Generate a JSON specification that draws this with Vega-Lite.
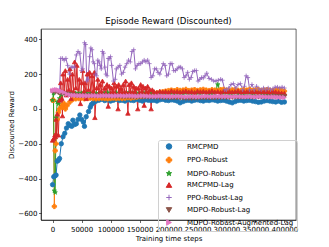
{
"$schema": "https://vega.github.io/schema/vega-lite/v6.json",
"width": 255, "height": 191,
"autosize": "none",
"padding": {"left": 41, "top": 29, "right": 33, "bottom": 27},
"background": "white",
"title": {"text": "Episode Reward (Discounted)", "fontSize": 8.6, "font": "DejaVu Sans", "fontWeight": "normal", "offset": 3, "color": "black"},
"config": {
 "view": {"stroke": "black", "strokeWidth": 0.6},
 "axis": {"grid": false, "labelFont": "DejaVu Sans", "labelFontSize": 7, "labelColor": "black", "tickColor": "black", "tickSize": 2.5, "tickWidth": 0.6, "domainColor": "black", "domainWidth": 0.6, "titleFont": "DejaVu Sans", "titleFontSize": 7, "titleFontWeight": "normal", "titleColor": "black", "labelPadding": 1.5, "titlePadding": 2},
 "legend": {"orient": "none", "legendX": 117, "legendY": 111, "padding": 3, "labelFont": "DejaVu Sans", "labelFontSize": 7, "labelColor": "black", "symbolSize": 30, "rowPadding": 2.5, "labelOffset": 14.5, "symbolOffset": 4.5, "symbolStrokeWidth": 1}
},
"data": {"values": [
{"s":"RMCPMD","x":0,"y":-435},{"s":"RMCPMD","x":2000,"y":-390},{"s":"RMCPMD","x":4000,"y":-385},{"s":"RMCPMD","x":6000,"y":-380},{"s":"RMCPMD","x":8000,"y":-300},{"s":"RMCPMD","x":10000,"y":-295},{"s":"RMCPMD","x":12000,"y":-285},{"s":"RMCPMD","x":15000,"y":-200},{"s":"RMCPMD","x":18000,"y":-160},{"s":"RMCPMD","x":21000,"y":-140},{"s":"RMCPMD","x":24000,"y":-110},{"s":"RMCPMD","x":27000,"y":-85},{"s":"RMCPMD","x":30000,"y":-95},{"s":"RMCPMD","x":33000,"y":-100},{"s":"RMCPMD","x":35000,"y":-65},{"s":"RMCPMD","x":38000,"y":-90},{"s":"RMCPMD","x":41000,"y":-85},{"s":"RMCPMD","x":44000,"y":-60},{"s":"RMCPMD","x":47000,"y":-35},{"s":"RMCPMD","x":50000,"y":-60},{"s":"RMCPMD","x":53000,"y":-75},{"s":"RMCPMD","x":55000,"y":-100},{"s":"RMCPMD","x":58000,"y":-45},{"s":"RMCPMD","x":62000,"y":-15},{"s":"RMCPMD","x":65000,"y":10},{"s":"RMCPMD","x":67000,"y":25},{"s":"RMCPMD","x":70000,"y":35},{"s":"RMCPMD","x":72000,"y":40},
{"s":"RMCPMD","x":75000,"y":45},{"s":"RMCPMD","x":80000,"y":50},{"s":"RMCPMD","x":85000,"y":55},{"s":"RMCPMD","x":90000,"y":48},{"s":"RMCPMD","x":95000,"y":52},{"s":"RMCPMD","x":100000,"y":45},{"s":"RMCPMD","x":105000,"y":50},{"s":"RMCPMD","x":110000,"y":55},{"s":"RMCPMD","x":115000,"y":48},{"s":"RMCPMD","x":120000,"y":50},
{"s":"RMCPMD","x":125000,"y":45},{"s":"RMCPMD","x":130000,"y":52},{"s":"RMCPMD","x":135000,"y":50},{"s":"RMCPMD","x":140000,"y":48},{"s":"RMCPMD","x":145000,"y":55},{"s":"RMCPMD","x":150000,"y":50},{"s":"RMCPMD","x":155000,"y":45},{"s":"RMCPMD","x":160000,"y":52},{"s":"RMCPMD","x":165000,"y":50},{"s":"RMCPMD","x":170000,"y":48},
{"s":"RMCPMD","x":175000,"y":50},{"s":"RMCPMD","x":180000,"y":45},{"s":"RMCPMD","x":185000,"y":52},{"s":"RMCPMD","x":190000,"y":55},{"s":"RMCPMD","x":195000,"y":50},{"s":"RMCPMD","x":200000,"y":48},{"s":"RMCPMD","x":205000,"y":52},{"s":"RMCPMD","x":210000,"y":50},{"s":"RMCPMD","x":215000,"y":45},{"s":"RMCPMD","x":220000,"y":35},
{"s":"RMCPMD","x":225000,"y":42},{"s":"RMCPMD","x":230000,"y":48},{"s":"RMCPMD","x":235000,"y":50},{"s":"RMCPMD","x":240000,"y":45},{"s":"RMCPMD","x":245000,"y":50},{"s":"RMCPMD","x":250000,"y":52},{"s":"RMCPMD","x":255000,"y":48},{"s":"RMCPMD","x":260000,"y":45},{"s":"RMCPMD","x":265000,"y":50},{"s":"RMCPMD","x":270000,"y":48},
{"s":"RMCPMD","x":275000,"y":52},{"s":"RMCPMD","x":280000,"y":50},{"s":"RMCPMD","x":285000,"y":45},{"s":"RMCPMD","x":290000,"y":48},{"s":"RMCPMD","x":295000,"y":50},{"s":"RMCPMD","x":300000,"y":45},{"s":"RMCPMD","x":305000,"y":40},{"s":"RMCPMD","x":310000,"y":35},{"s":"RMCPMD","x":315000,"y":42},{"s":"RMCPMD","x":320000,"y":48},
{"s":"RMCPMD","x":325000,"y":50},{"s":"RMCPMD","x":330000,"y":45},{"s":"RMCPMD","x":335000,"y":48},{"s":"RMCPMD","x":340000,"y":50},{"s":"RMCPMD","x":345000,"y":45},{"s":"RMCPMD","x":350000,"y":42},{"s":"RMCPMD","x":355000,"y":38},{"s":"RMCPMD","x":360000,"y":40},{"s":"RMCPMD","x":365000,"y":45},{"s":"RMCPMD","x":370000,"y":48},
{"s":"RMCPMD","x":375000,"y":45},{"s":"RMCPMD","x":380000,"y":42},{"s":"RMCPMD","x":385000,"y":40},{"s":"RMCPMD","x":390000,"y":45},{"s":"RMCPMD","x":395000,"y":38},{"s":"RMCPMD","x":400000,"y":40},

{"s":"PPO-Robust","x":0,"y":50},{"s":"PPO-Robust","x":1500,"y":50},{"s":"PPO-Robust","x":3000,"y":-560},{"s":"PPO-Robust","x":4500,"y":-240},{"s":"PPO-Robust","x":6000,"y":-200},{"s":"PPO-Robust","x":8000,"y":-60},{"s":"PPO-Robust","x":10000,"y":-20},{"s":"PPO-Robust","x":12000,"y":0},{"s":"PPO-Robust","x":15000,"y":20},{"s":"PPO-Robust","x":18000,"y":10},{"s":"PPO-Robust","x":20000,"y":30},{"s":"PPO-Robust","x":22000,"y":0},{"s":"PPO-Robust","x":25000,"y":20},{"s":"PPO-Robust","x":30000,"y":40},{"s":"PPO-Robust","x":35000,"y":55},{"s":"PPO-Robust","x":40000,"y":58},
{"s":"PPO-Robust","x":45000,"y":60},{"s":"PPO-Robust","x":50000,"y":62},{"s":"PPO-Robust","x":55000,"y":58},{"s":"PPO-Robust","x":60000,"y":60},{"s":"PPO-Robust","x":65000,"y":62},{"s":"PPO-Robust","x":70000,"y":60},{"s":"PPO-Robust","x":75000,"y":58},{"s":"PPO-Robust","x":80000,"y":60},{"s":"PPO-Robust","x":85000,"y":62},{"s":"PPO-Robust","x":90000,"y":60},{"s":"PPO-Robust","x":95000,"y":58},{"s":"PPO-Robust","x":100000,"y":60},{"s":"PPO-Robust","x":105000,"y":62},{"s":"PPO-Robust","x":110000,"y":60},{"s":"PPO-Robust","x":115000,"y":62},{"s":"PPO-Robust","x":120000,"y":60},{"s":"PPO-Robust","x":125000,"y":62},{"s":"PPO-Robust","x":130000,"y":65},{"s":"PPO-Robust","x":135000,"y":62},{"s":"PPO-Robust","x":140000,"y":65},{"s":"PPO-Robust","x":145000,"y":68},{"s":"PPO-Robust","x":150000,"y":70},{"s":"PPO-Robust","x":155000,"y":72},{"s":"PPO-Robust","x":160000,"y":75},{"s":"PPO-Robust","x":165000,"y":80},{"s":"PPO-Robust","x":170000,"y":85},{"s":"PPO-Robust","x":175000,"y":88},{"s":"PPO-Robust","x":180000,"y":92},{"s":"PPO-Robust","x":185000,"y":95},{"s":"PPO-Robust","x":190000,"y":98},{"s":"PPO-Robust","x":195000,"y":102},
{"s":"PPO-Robust","x":200000,"y":105},{"s":"PPO-Robust","x":205000,"y":108},{"s":"PPO-Robust","x":210000,"y":104},{"s":"PPO-Robust","x":215000,"y":110},{"s":"PPO-Robust","x":220000,"y":106},{"s":"PPO-Robust","x":225000,"y":108},{"s":"PPO-Robust","x":230000,"y":112},{"s":"PPO-Robust","x":235000,"y":105},{"s":"PPO-Robust","x":240000,"y":108},{"s":"PPO-Robust","x":245000,"y":110},{"s":"PPO-Robust","x":250000,"y":106},{"s":"PPO-Robust","x":255000,"y":109},{"s":"PPO-Robust","x":260000,"y":112},{"s":"PPO-Robust","x":265000,"y":108},{"s":"PPO-Robust","x":270000,"y":105},{"s":"PPO-Robust","x":275000,"y":110},{"s":"PPO-Robust","x":280000,"y":108},{"s":"PPO-Robust","x":285000,"y":106},{"s":"PPO-Robust","x":290000,"y":110},{"s":"PPO-Robust","x":295000,"y":112},{"s":"PPO-Robust","x":300000,"y":108},{"s":"PPO-Robust","x":305000,"y":105},{"s":"PPO-Robust","x":310000,"y":109},{"s":"PPO-Robust","x":315000,"y":110},{"s":"PPO-Robust","x":320000,"y":107},{"s":"PPO-Robust","x":325000,"y":105},{"s":"PPO-Robust","x":330000,"y":110},{"s":"PPO-Robust","x":335000,"y":108},{"s":"PPO-Robust","x":340000,"y":112},{"s":"PPO-Robust","x":345000,"y":106},{"s":"PPO-Robust","x":350000,"y":108},{"s":"PPO-Robust","x":355000,"y":110},{"s":"PPO-Robust","x":360000,"y":105},{"s":"PPO-Robust","x":365000,"y":108},{"s":"PPO-Robust","x":370000,"y":110},{"s":"PPO-Robust","x":375000,"y":107},{"s":"PPO-Robust","x":380000,"y":105},{"s":"PPO-Robust","x":385000,"y":108},{"s":"PPO-Robust","x":390000,"y":110},{"s":"PPO-Robust","x":395000,"y":106},{"s":"PPO-Robust","x":400000,"y":102},

{"s":"MDPO-Robust","x":0,"y":50},{"s":"MDPO-Robust","x":1500,"y":90},{"s":"MDPO-Robust","x":3000,"y":-470},{"s":"MDPO-Robust","x":4500,"y":-480},{"s":"MDPO-Robust","x":6000,"y":-50},{"s":"MDPO-Robust","x":8000,"y":40},{"s":"MDPO-Robust","x":10000,"y":30},{"s":"MDPO-Robust","x":12000,"y":60},{"s":"MDPO-Robust","x":15000,"y":80},{"s":"MDPO-Robust","x":20000,"y":90},{"s":"MDPO-Robust","x":25000,"y":85},
{"s":"MDPO-Robust","x":30000,"y":88},{"s":"MDPO-Robust","x":35000,"y":92},{"s":"MDPO-Robust","x":40000,"y":90},{"s":"MDPO-Robust","x":45000,"y":87},{"s":"MDPO-Robust","x":50000,"y":91},{"s":"MDPO-Robust","x":55000,"y":93},{"s":"MDPO-Robust","x":60000,"y":89},{"s":"MDPO-Robust","x":65000,"y":90},{"s":"MDPO-Robust","x":70000,"y":92},{"s":"MDPO-Robust","x":75000,"y":88},
{"s":"MDPO-Robust","x":80000,"y":90},{"s":"MDPO-Robust","x":85000,"y":91},{"s":"MDPO-Robust","x":90000,"y":89},{"s":"MDPO-Robust","x":95000,"y":93},{"s":"MDPO-Robust","x":100000,"y":90},{"s":"MDPO-Robust","x":105000,"y":88},{"s":"MDPO-Robust","x":110000,"y":92},{"s":"MDPO-Robust","x":115000,"y":90},{"s":"MDPO-Robust","x":120000,"y":87},{"s":"MDPO-Robust","x":125000,"y":91},
{"s":"MDPO-Robust","x":130000,"y":90},{"s":"MDPO-Robust","x":135000,"y":92},{"s":"MDPO-Robust","x":140000,"y":89},{"s":"MDPO-Robust","x":145000,"y":88},{"s":"MDPO-Robust","x":150000,"y":91},{"s":"MDPO-Robust","x":155000,"y":90},{"s":"MDPO-Robust","x":160000,"y":93},{"s":"MDPO-Robust","x":165000,"y":89},{"s":"MDPO-Robust","x":170000,"y":90},{"s":"MDPO-Robust","x":175000,"y":92},
{"s":"MDPO-Robust","x":180000,"y":88},{"s":"MDPO-Robust","x":185000,"y":90},{"s":"MDPO-Robust","x":190000,"y":91},{"s":"MDPO-Robust","x":195000,"y":89},{"s":"MDPO-Robust","x":200000,"y":92},{"s":"MDPO-Robust","x":205000,"y":90},{"s":"MDPO-Robust","x":210000,"y":88},{"s":"MDPO-Robust","x":215000,"y":90},{"s":"MDPO-Robust","x":220000,"y":91},{"s":"MDPO-Robust","x":225000,"y":89},
{"s":"MDPO-Robust","x":230000,"y":92},{"s":"MDPO-Robust","x":235000,"y":90},{"s":"MDPO-Robust","x":240000,"y":88},{"s":"MDPO-Robust","x":245000,"y":91},{"s":"MDPO-Robust","x":250000,"y":90},{"s":"MDPO-Robust","x":255000,"y":89},{"s":"MDPO-Robust","x":260000,"y":92},{"s":"MDPO-Robust","x":265000,"y":90},{"s":"MDPO-Robust","x":270000,"y":88},{"s":"MDPO-Robust","x":275000,"y":90},
{"s":"MDPO-Robust","x":280000,"y":90},{"s":"MDPO-Robust","x":285000,"y":140},{"s":"MDPO-Robust","x":290000,"y":88},{"s":"MDPO-Robust","x":295000,"y":90},{"s":"MDPO-Robust","x":300000,"y":91},{"s":"MDPO-Robust","x":305000,"y":89},{"s":"MDPO-Robust","x":310000,"y":90},{"s":"MDPO-Robust","x":315000,"y":92},{"s":"MDPO-Robust","x":320000,"y":88},{"s":"MDPO-Robust","x":325000,"y":90},
{"s":"MDPO-Robust","x":330000,"y":89},{"s":"MDPO-Robust","x":335000,"y":91},{"s":"MDPO-Robust","x":340000,"y":90},{"s":"MDPO-Robust","x":345000,"y":88},{"s":"MDPO-Robust","x":350000,"y":90},{"s":"MDPO-Robust","x":355000,"y":92},{"s":"MDPO-Robust","x":360000,"y":89},{"s":"MDPO-Robust","x":365000,"y":90},{"s":"MDPO-Robust","x":370000,"y":88},{"s":"MDPO-Robust","x":375000,"y":87},
{"s":"MDPO-Robust","x":380000,"y":89},{"s":"MDPO-Robust","x":385000,"y":86},{"s":"MDPO-Robust","x":390000,"y":85},{"s":"MDPO-Robust","x":395000,"y":82},{"s":"MDPO-Robust","x":400000,"y":80},

{"s":"RMCPMD-Lag","x":0,"y":-180},{"s":"RMCPMD-Lag","x":2000,"y":-170},{"s":"RMCPMD-Lag","x":4000,"y":-150},{"s":"RMCPMD-Lag","x":5000,"y":-160},{"s":"RMCPMD-Lag","x":6000,"y":-60},{"s":"RMCPMD-Lag","x":7000,"y":-150},{"s":"RMCPMD-Lag","x":8000,"y":-30},{"s":"RMCPMD-Lag","x":10000,"y":-150},{"s":"RMCPMD-Lag","x":12000,"y":50},{"s":"RMCPMD-Lag","x":14000,"y":150},{"s":"RMCPMD-Lag","x":16000,"y":60},{"s":"RMCPMD-Lag","x":17000,"y":-40},{"s":"RMCPMD-Lag","x":18000,"y":200},{"s":"RMCPMD-Lag","x":20000,"y":100},{"s":"RMCPMD-Lag","x":22000,"y":220},{"s":"RMCPMD-Lag","x":24000,"y":80},{"s":"RMCPMD-Lag","x":26000,"y":170},{"s":"RMCPMD-Lag","x":28000,"y":110},{"s":"RMCPMD-Lag","x":30000,"y":230},{"s":"RMCPMD-Lag","x":32000,"y":60},{"s":"RMCPMD-Lag","x":34000,"y":200},{"s":"RMCPMD-Lag","x":36000,"y":100},{"s":"RMCPMD-Lag","x":38000,"y":270},{"s":"RMCPMD-Lag","x":40000,"y":120},{"s":"RMCPMD-Lag","x":42000,"y":250},{"s":"RMCPMD-Lag","x":44000,"y":80},{"s":"RMCPMD-Lag","x":46000,"y":170},{"s":"RMCPMD-Lag","x":48000,"y":30},{"s":"RMCPMD-Lag","x":50000,"y":150},{"s":"RMCPMD-Lag","x":52000,"y":220},{"s":"RMCPMD-Lag","x":54000,"y":100},{"s":"RMCPMD-Lag","x":56000,"y":150},{"s":"RMCPMD-Lag","x":58000,"y":60},{"s":"RMCPMD-Lag","x":60000,"y":200},{"s":"RMCPMD-Lag","x":62000,"y":110},{"s":"RMCPMD-Lag","x":64000,"y":210},{"s":"RMCPMD-Lag","x":66000,"y":80},{"s":"RMCPMD-Lag","x":68000,"y":190},{"s":"RMCPMD-Lag","x":70000,"y":100},{"s":"RMCPMD-Lag","x":72000,"y":210},{"s":"RMCPMD-Lag","x":73000,"y":-50},{"s":"RMCPMD-Lag","x":76000,"y":120},{"s":"RMCPMD-Lag","x":78000,"y":170},{"s":"RMCPMD-Lag","x":80000,"y":90},{"s":"RMCPMD-Lag","x":82000,"y":140},{"s":"RMCPMD-Lag","x":84000,"y":100},{"s":"RMCPMD-Lag","x":86000,"y":160},{"s":"RMCPMD-Lag","x":88000,"y":80},{"s":"RMCPMD-Lag","x":90000,"y":120},{"s":"RMCPMD-Lag","x":92000,"y":90},{"s":"RMCPMD-Lag","x":94000,"y":140},{"s":"RMCPMD-Lag","x":96000,"y":15},{"s":"RMCPMD-Lag","x":98000,"y":130},{"s":"RMCPMD-Lag","x":100000,"y":90},{"s":"RMCPMD-Lag","x":102000,"y":120},{"s":"RMCPMD-Lag","x":104000,"y":100},{"s":"RMCPMD-Lag","x":106000,"y":150},{"s":"RMCPMD-Lag","x":108000,"y":90},{"s":"RMCPMD-Lag","x":110000,"y":130},{"s":"RMCPMD-Lag","x":113000,"y":0},{"s":"RMCPMD-Lag","x":114000,"y":140},{"s":"RMCPMD-Lag","x":116000,"y":100},{"s":"RMCPMD-Lag","x":118000,"y":120},{"s":"RMCPMD-Lag","x":120000,"y":90},{"s":"RMCPMD-Lag","x":122000,"y":140},{"s":"RMCPMD-Lag","x":124000,"y":100},{"s":"RMCPMD-Lag","x":126000,"y":160},{"s":"RMCPMD-Lag","x":128000,"y":90},{"s":"RMCPMD-Lag","x":130000,"y":-25},{"s":"RMCPMD-Lag","x":132000,"y":140},{"s":"RMCPMD-Lag","x":134000,"y":100},{"s":"RMCPMD-Lag","x":136000,"y":150},{"s":"RMCPMD-Lag","x":138000,"y":90},{"s":"RMCPMD-Lag","x":140000,"y":130},{"s":"RMCPMD-Lag","x":142000,"y":100},{"s":"RMCPMD-Lag","x":144000,"y":120},{"s":"RMCPMD-Lag","x":147000,"y":0},{"s":"RMCPMD-Lag","x":148000,"y":120},{"s":"RMCPMD-Lag","x":150000,"y":90},{"s":"RMCPMD-Lag","x":152000,"y":140},{"s":"RMCPMD-Lag","x":154000,"y":100},{"s":"RMCPMD-Lag","x":156000,"y":130},{"s":"RMCPMD-Lag","x":158000,"y":20},{"s":"RMCPMD-Lag","x":160000,"y":120},{"s":"RMCPMD-Lag","x":162000,"y":100},{"s":"RMCPMD-Lag","x":164000,"y":130},{"s":"RMCPMD-Lag","x":166000,"y":90},{"s":"RMCPMD-Lag","x":168000,"y":110},{"s":"RMCPMD-Lag","x":170000,"y":0},{"s":"RMCPMD-Lag","x":172000,"y":110},
{"s":"RMCPMD-Lag","x":175000,"y":100},{"s":"RMCPMD-Lag","x":180000,"y":95},{"s":"RMCPMD-Lag","x":185000,"y":102},{"s":"RMCPMD-Lag","x":190000,"y":98},{"s":"RMCPMD-Lag","x":195000,"y":100},{"s":"RMCPMD-Lag","x":200000,"y":96},{"s":"RMCPMD-Lag","x":205000,"y":104},{"s":"RMCPMD-Lag","x":210000,"y":99},{"s":"RMCPMD-Lag","x":215000,"y":101},{"s":"RMCPMD-Lag","x":220000,"y":97},{"s":"RMCPMD-Lag","x":225000,"y":100},{"s":"RMCPMD-Lag","x":230000,"y":103},{"s":"RMCPMD-Lag","x":235000,"y":98},{"s":"RMCPMD-Lag","x":240000,"y":100},{"s":"RMCPMD-Lag","x":245000,"y":95},{"s":"RMCPMD-Lag","x":250000,"y":102},{"s":"RMCPMD-Lag","x":255000,"y":99},{"s":"RMCPMD-Lag","x":260000,"y":101},{"s":"RMCPMD-Lag","x":265000,"y":97},{"s":"RMCPMD-Lag","x":270000,"y":100},{"s":"RMCPMD-Lag","x":275000,"y":104},{"s":"RMCPMD-Lag","x":280000,"y":98},{"s":"RMCPMD-Lag","x":285000,"y":100},{"s":"RMCPMD-Lag","x":290000,"y":96},{"s":"RMCPMD-Lag","x":295000,"y":102},{"s":"RMCPMD-Lag","x":300000,"y":99},{"s":"RMCPMD-Lag","x":305000,"y":101},{"s":"RMCPMD-Lag","x":310000,"y":98},{"s":"RMCPMD-Lag","x":315000,"y":100},{"s":"RMCPMD-Lag","x":320000,"y":103},{"s":"RMCPMD-Lag","x":325000,"y":97},{"s":"RMCPMD-Lag","x":330000,"y":100},{"s":"RMCPMD-Lag","x":335000,"y":99},{"s":"RMCPMD-Lag","x":340000,"y":102},{"s":"RMCPMD-Lag","x":345000,"y":98},{"s":"RMCPMD-Lag","x":350000,"y":100},{"s":"RMCPMD-Lag","x":355000,"y":96},{"s":"RMCPMD-Lag","x":360000,"y":101},{"s":"RMCPMD-Lag","x":365000,"y":99},{"s":"RMCPMD-Lag","x":370000,"y":100},{"s":"RMCPMD-Lag","x":375000,"y":97},{"s":"RMCPMD-Lag","x":380000,"y":102},{"s":"RMCPMD-Lag","x":385000,"y":98},{"s":"RMCPMD-Lag","x":390000,"y":95},{"s":"RMCPMD-Lag","x":395000,"y":92},{"s":"RMCPMD-Lag","x":400000,"y":90},

{"s":"PPO-Robust-Lag","x":0,"y":100},{"s":"PPO-Robust-Lag","x":3000,"y":105},{"s":"PPO-Robust-Lag","x":6000,"y":110},{"s":"PPO-Robust-Lag","x":9000,"y":105},{"s":"PPO-Robust-Lag","x":12000,"y":100},{"s":"PPO-Robust-Lag","x":14000,"y":290},{"s":"PPO-Robust-Lag","x":17000,"y":290},{"s":"PPO-Robust-Lag","x":20000,"y":280},{"s":"PPO-Robust-Lag","x":23000,"y":290},{"s":"PPO-Robust-Lag","x":26000,"y":250},{"s":"PPO-Robust-Lag","x":29000,"y":200},{"s":"PPO-Robust-Lag","x":32000,"y":240},{"s":"PPO-Robust-Lag","x":35000,"y":240},{"s":"PPO-Robust-Lag","x":38000,"y":240},{"s":"PPO-Robust-Lag","x":41000,"y":310},{"s":"PPO-Robust-Lag","x":44000,"y":330},{"s":"PPO-Robust-Lag","x":47000,"y":320},{"s":"PPO-Robust-Lag","x":50000,"y":220},{"s":"PPO-Robust-Lag","x":52000,"y":230},{"s":"PPO-Robust-Lag","x":55000,"y":380},{"s":"PPO-Robust-Lag","x":57000,"y":370},{"s":"PPO-Robust-Lag","x":59000,"y":160},{"s":"PPO-Robust-Lag","x":61000,"y":170},{"s":"PPO-Robust-Lag","x":64000,"y":300},{"s":"PPO-Robust-Lag","x":66000,"y":350},{"s":"PPO-Robust-Lag","x":68000,"y":340},{"s":"PPO-Robust-Lag","x":70000,"y":270},{"s":"PPO-Robust-Lag","x":72000,"y":260},{"s":"PPO-Robust-Lag","x":74000,"y":200},{"s":"PPO-Robust-Lag","x":76000,"y":190},{"s":"PPO-Robust-Lag","x":78000,"y":280},{"s":"PPO-Robust-Lag","x":80000,"y":270},{"s":"PPO-Robust-Lag","x":82000,"y":250},{"s":"PPO-Robust-Lag","x":84000,"y":230},{"s":"PPO-Robust-Lag","x":86000,"y":330},{"s":"PPO-Robust-Lag","x":88000,"y":320},{"s":"PPO-Robust-Lag","x":90000,"y":240},{"s":"PPO-Robust-Lag","x":92000,"y":200},{"s":"PPO-Robust-Lag","x":94000,"y":190},{"s":"PPO-Robust-Lag","x":96000,"y":290},{"s":"PPO-Robust-Lag","x":98000,"y":290},{"s":"PPO-Robust-Lag","x":100000,"y":300},{"s":"PPO-Robust-Lag","x":102000,"y":250},{"s":"PPO-Robust-Lag","x":105000,"y":160},{"s":"PPO-Robust-Lag","x":108000,"y":170},{"s":"PPO-Robust-Lag","x":110000,"y":230},{"s":"PPO-Robust-Lag","x":113000,"y":240},{"s":"PPO-Robust-Lag","x":116000,"y":250},{"s":"PPO-Robust-Lag","x":119000,"y":200},{"s":"PPO-Robust-Lag","x":122000,"y":210},{"s":"PPO-Robust-Lag","x":125000,"y":240},{"s":"PPO-Robust-Lag","x":128000,"y":260},{"s":"PPO-Robust-Lag","x":131000,"y":280},{"s":"PPO-Robust-Lag","x":134000,"y":270},{"s":"PPO-Robust-Lag","x":137000,"y":330},{"s":"PPO-Robust-Lag","x":140000,"y":340},{"s":"PPO-Robust-Lag","x":143000,"y":230},{"s":"PPO-Robust-Lag","x":146000,"y":250},{"s":"PPO-Robust-Lag","x":149000,"y":260},{"s":"PPO-Robust-Lag","x":152000,"y":260},{"s":"PPO-Robust-Lag","x":155000,"y":270},{"s":"PPO-Robust-Lag","x":158000,"y":280},{"s":"PPO-Robust-Lag","x":161000,"y":270},{"s":"PPO-Robust-Lag","x":164000,"y":280},{"s":"PPO-Robust-Lag","x":167000,"y":260},{"s":"PPO-Robust-Lag","x":170000,"y":180},{"s":"PPO-Robust-Lag","x":173000,"y":190},{"s":"PPO-Robust-Lag","x":176000,"y":230},{"s":"PPO-Robust-Lag","x":179000,"y":230},{"s":"PPO-Robust-Lag","x":182000,"y":210},{"s":"PPO-Robust-Lag","x":185000,"y":200},{"s":"PPO-Robust-Lag","x":188000,"y":230},{"s":"PPO-Robust-Lag","x":191000,"y":260},{"s":"PPO-Robust-Lag","x":194000,"y":250},{"s":"PPO-Robust-Lag","x":197000,"y":190},{"s":"PPO-Robust-Lag","x":200000,"y":200},{"s":"PPO-Robust-Lag","x":203000,"y":260},{"s":"PPO-Robust-Lag","x":206000,"y":260},{"s":"PPO-Robust-Lag","x":209000,"y":220},{"s":"PPO-Robust-Lag","x":212000,"y":220},{"s":"PPO-Robust-Lag","x":215000,"y":230},{"s":"PPO-Robust-Lag","x":218000,"y":240},{"s":"PPO-Robust-Lag","x":221000,"y":240},{"s":"PPO-Robust-Lag","x":224000,"y":230},{"s":"PPO-Robust-Lag","x":227000,"y":180},{"s":"PPO-Robust-Lag","x":230000,"y":190},{"s":"PPO-Robust-Lag","x":233000,"y":210},{"s":"PPO-Robust-Lag","x":236000,"y":170},{"s":"PPO-Robust-Lag","x":239000,"y":180},{"s":"PPO-Robust-Lag","x":242000,"y":215},{"s":"PPO-Robust-Lag","x":245000,"y":220},{"s":"PPO-Robust-Lag","x":248000,"y":220},{"s":"PPO-Robust-Lag","x":251000,"y":160},{"s":"PPO-Robust-Lag","x":254000,"y":170},{"s":"PPO-Robust-Lag","x":257000,"y":180},{"s":"PPO-Robust-Lag","x":260000,"y":178},{"s":"PPO-Robust-Lag","x":263000,"y":190},{"s":"PPO-Robust-Lag","x":266000,"y":205},{"s":"PPO-Robust-Lag","x":270000,"y":175},{"s":"PPO-Robust-Lag","x":274000,"y":170},{"s":"PPO-Robust-Lag","x":278000,"y":160},{"s":"PPO-Robust-Lag","x":282000,"y":160},{"s":"PPO-Robust-Lag","x":286000,"y":165},{"s":"PPO-Robust-Lag","x":290000,"y":170},{"s":"PPO-Robust-Lag","x":293000,"y":165},{"s":"PPO-Robust-Lag","x":297000,"y":110},{"s":"PPO-Robust-Lag","x":300000,"y":110},{"s":"PPO-Robust-Lag","x":304000,"y":120},{"s":"PPO-Robust-Lag","x":308000,"y":140},{"s":"PPO-Robust-Lag","x":312000,"y":145},{"s":"PPO-Robust-Lag","x":316000,"y":120},{"s":"PPO-Robust-Lag","x":320000,"y":140},{"s":"PPO-Robust-Lag","x":324000,"y":145},{"s":"PPO-Robust-Lag","x":328000,"y":110},{"s":"PPO-Robust-Lag","x":331000,"y":130},{"s":"PPO-Robust-Lag","x":334000,"y":190},{"s":"PPO-Robust-Lag","x":337000,"y":180},{"s":"PPO-Robust-Lag","x":340000,"y":110},{"s":"PPO-Robust-Lag","x":344000,"y":140},{"s":"PPO-Robust-Lag","x":348000,"y":110},{"s":"PPO-Robust-Lag","x":352000,"y":130},{"s":"PPO-Robust-Lag","x":356000,"y":115},{"s":"PPO-Robust-Lag","x":360000,"y":110},{"s":"PPO-Robust-Lag","x":364000,"y":120},{"s":"PPO-Robust-Lag","x":368000,"y":110},{"s":"PPO-Robust-Lag","x":372000,"y":120},{"s":"PPO-Robust-Lag","x":376000,"y":110},{"s":"PPO-Robust-Lag","x":380000,"y":115},{"s":"PPO-Robust-Lag","x":384000,"y":125},{"s":"PPO-Robust-Lag","x":388000,"y":125},{"s":"PPO-Robust-Lag","x":392000,"y":120},{"s":"PPO-Robust-Lag","x":396000,"y":125},{"s":"PPO-Robust-Lag","x":400000,"y":120},

{"s":"MDPO-Robust-Lag","x":0,"y":100},{"s":"MDPO-Robust-Lag","x":5000,"y":95},{"s":"MDPO-Robust-Lag","x":10000,"y":92},{"s":"MDPO-Robust-Lag","x":15000,"y":90},{"s":"MDPO-Robust-Lag","x":20000,"y":88},{"s":"MDPO-Robust-Lag","x":25000,"y":85},
{"s":"MDPO-Robust-Lag","x":30000,"y":80},{"s":"MDPO-Robust-Lag","x":35000,"y":80},{"s":"MDPO-Robust-Lag","x":40000,"y":78},{"s":"MDPO-Robust-Lag","x":45000,"y":78},{"s":"MDPO-Robust-Lag","x":50000,"y":77},{"s":"MDPO-Robust-Lag","x":55000,"y":76},{"s":"MDPO-Robust-Lag","x":60000,"y":76},{"s":"MDPO-Robust-Lag","x":65000,"y":75},{"s":"MDPO-Robust-Lag","x":70000,"y":75},{"s":"MDPO-Robust-Lag","x":75000,"y":74},
{"s":"MDPO-Robust-Lag","x":80000,"y":74},{"s":"MDPO-Robust-Lag","x":85000,"y":73},{"s":"MDPO-Robust-Lag","x":90000,"y":73},{"s":"MDPO-Robust-Lag","x":95000,"y":72},{"s":"MDPO-Robust-Lag","x":100000,"y":72},{"s":"MDPO-Robust-Lag","x":105000,"y":72},{"s":"MDPO-Robust-Lag","x":110000,"y":71},{"s":"MDPO-Robust-Lag","x":115000,"y":71},{"s":"MDPO-Robust-Lag","x":120000,"y":70},{"s":"MDPO-Robust-Lag","x":125000,"y":70},
{"s":"MDPO-Robust-Lag","x":130000,"y":70},{"s":"MDPO-Robust-Lag","x":135000,"y":69},{"s":"MDPO-Robust-Lag","x":140000,"y":69},{"s":"MDPO-Robust-Lag","x":145000,"y":68},{"s":"MDPO-Robust-Lag","x":150000,"y":68},{"s":"MDPO-Robust-Lag","x":155000,"y":67},{"s":"MDPO-Robust-Lag","x":160000,"y":67},{"s":"MDPO-Robust-Lag","x":165000,"y":66},{"s":"MDPO-Robust-Lag","x":170000,"y":66},{"s":"MDPO-Robust-Lag","x":175000,"y":65},
{"s":"MDPO-Robust-Lag","x":180000,"y":65},{"s":"MDPO-Robust-Lag","x":185000,"y":64},{"s":"MDPO-Robust-Lag","x":190000,"y":64},{"s":"MDPO-Robust-Lag","x":195000,"y":63},{"s":"MDPO-Robust-Lag","x":200000,"y":63},{"s":"MDPO-Robust-Lag","x":205000,"y":62},{"s":"MDPO-Robust-Lag","x":210000,"y":62},{"s":"MDPO-Robust-Lag","x":215000,"y":62},{"s":"MDPO-Robust-Lag","x":220000,"y":61},{"s":"MDPO-Robust-Lag","x":225000,"y":61},
{"s":"MDPO-Robust-Lag","x":230000,"y":60},{"s":"MDPO-Robust-Lag","x":235000,"y":60},{"s":"MDPO-Robust-Lag","x":240000,"y":60},{"s":"MDPO-Robust-Lag","x":245000,"y":61},{"s":"MDPO-Robust-Lag","x":250000,"y":61},{"s":"MDPO-Robust-Lag","x":255000,"y":62},{"s":"MDPO-Robust-Lag","x":260000,"y":62},{"s":"MDPO-Robust-Lag","x":265000,"y":62},{"s":"MDPO-Robust-Lag","x":270000,"y":63},{"s":"MDPO-Robust-Lag","x":275000,"y":63},
{"s":"MDPO-Robust-Lag","x":280000,"y":63},{"s":"MDPO-Robust-Lag","x":285000,"y":64},{"s":"MDPO-Robust-Lag","x":290000,"y":64},{"s":"MDPO-Robust-Lag","x":295000,"y":64},{"s":"MDPO-Robust-Lag","x":300000,"y":65},{"s":"MDPO-Robust-Lag","x":305000,"y":65},{"s":"MDPO-Robust-Lag","x":310000,"y":65},{"s":"MDPO-Robust-Lag","x":315000,"y":66},{"s":"MDPO-Robust-Lag","x":320000,"y":66},{"s":"MDPO-Robust-Lag","x":325000,"y":66},
{"s":"MDPO-Robust-Lag","x":330000,"y":66},{"s":"MDPO-Robust-Lag","x":335000,"y":67},{"s":"MDPO-Robust-Lag","x":340000,"y":67},{"s":"MDPO-Robust-Lag","x":345000,"y":67},{"s":"MDPO-Robust-Lag","x":350000,"y":68},{"s":"MDPO-Robust-Lag","x":355000,"y":68},{"s":"MDPO-Robust-Lag","x":360000,"y":68},{"s":"MDPO-Robust-Lag","x":365000,"y":69},{"s":"MDPO-Robust-Lag","x":370000,"y":69},{"s":"MDPO-Robust-Lag","x":375000,"y":69},
{"s":"MDPO-Robust-Lag","x":380000,"y":70},{"s":"MDPO-Robust-Lag","x":385000,"y":70},{"s":"MDPO-Robust-Lag","x":390000,"y":70},{"s":"MDPO-Robust-Lag","x":395000,"y":70},{"s":"MDPO-Robust-Lag","x":400000,"y":70},

{"s":"MDPO-Robust-Augmented-Lag","x":0,"y":105},{"s":"MDPO-Robust-Augmented-Lag","x":3000,"y":108},{"s":"MDPO-Robust-Augmented-Lag","x":6000,"y":110},{"s":"MDPO-Robust-Augmented-Lag","x":9000,"y":108},{"s":"MDPO-Robust-Augmented-Lag","x":12000,"y":105},{"s":"MDPO-Robust-Augmented-Lag","x":15000,"y":100},{"s":"MDPO-Robust-Augmented-Lag","x":20000,"y":95},{"s":"MDPO-Robust-Augmented-Lag","x":25000,"y":85},{"s":"MDPO-Robust-Augmented-Lag","x":30000,"y":80},
{"s":"MDPO-Robust-Augmented-Lag","x":35000,"y":78},{"s":"MDPO-Robust-Augmented-Lag","x":40000,"y":77},{"s":"MDPO-Robust-Augmented-Lag","x":45000,"y":76},{"s":"MDPO-Robust-Augmented-Lag","x":50000,"y":76},{"s":"MDPO-Robust-Augmented-Lag","x":55000,"y":75},{"s":"MDPO-Robust-Augmented-Lag","x":60000,"y":75},{"s":"MDPO-Robust-Augmented-Lag","x":65000,"y":75},{"s":"MDPO-Robust-Augmented-Lag","x":70000,"y":76},{"s":"MDPO-Robust-Augmented-Lag","x":75000,"y":75},{"s":"MDPO-Robust-Augmented-Lag","x":80000,"y":74},
{"s":"MDPO-Robust-Augmented-Lag","x":85000,"y":75},{"s":"MDPO-Robust-Augmented-Lag","x":90000,"y":76},{"s":"MDPO-Robust-Augmented-Lag","x":95000,"y":75},{"s":"MDPO-Robust-Augmented-Lag","x":100000,"y":75},{"s":"MDPO-Robust-Augmented-Lag","x":105000,"y":74},{"s":"MDPO-Robust-Augmented-Lag","x":110000,"y":75},{"s":"MDPO-Robust-Augmented-Lag","x":115000,"y":76},{"s":"MDPO-Robust-Augmented-Lag","x":120000,"y":75},{"s":"MDPO-Robust-Augmented-Lag","x":125000,"y":74},{"s":"MDPO-Robust-Augmented-Lag","x":130000,"y":75},
{"s":"MDPO-Robust-Augmented-Lag","x":135000,"y":75},{"s":"MDPO-Robust-Augmented-Lag","x":140000,"y":74},{"s":"MDPO-Robust-Augmented-Lag","x":145000,"y":73},{"s":"MDPO-Robust-Augmented-Lag","x":150000,"y":74},{"s":"MDPO-Robust-Augmented-Lag","x":155000,"y":75},{"s":"MDPO-Robust-Augmented-Lag","x":160000,"y":74},{"s":"MDPO-Robust-Augmented-Lag","x":165000,"y":73},{"s":"MDPO-Robust-Augmented-Lag","x":170000,"y":73},{"s":"MDPO-Robust-Augmented-Lag","x":175000,"y":72},{"s":"MDPO-Robust-Augmented-Lag","x":180000,"y":73},
{"s":"MDPO-Robust-Augmented-Lag","x":185000,"y":74},{"s":"MDPO-Robust-Augmented-Lag","x":190000,"y":73},{"s":"MDPO-Robust-Augmented-Lag","x":195000,"y":72},{"s":"MDPO-Robust-Augmented-Lag","x":200000,"y":72},{"s":"MDPO-Robust-Augmented-Lag","x":205000,"y":71},{"s":"MDPO-Robust-Augmented-Lag","x":210000,"y":72},{"s":"MDPO-Robust-Augmented-Lag","x":215000,"y":73},{"s":"MDPO-Robust-Augmented-Lag","x":220000,"y":72},{"s":"MDPO-Robust-Augmented-Lag","x":225000,"y":71},{"s":"MDPO-Robust-Augmented-Lag","x":230000,"y":70},
{"s":"MDPO-Robust-Augmented-Lag","x":235000,"y":71},{"s":"MDPO-Robust-Augmented-Lag","x":240000,"y":72},{"s":"MDPO-Robust-Augmented-Lag","x":245000,"y":71},{"s":"MDPO-Robust-Augmented-Lag","x":250000,"y":70},{"s":"MDPO-Robust-Augmented-Lag","x":255000,"y":71},{"s":"MDPO-Robust-Augmented-Lag","x":260000,"y":72},{"s":"MDPO-Robust-Augmented-Lag","x":265000,"y":73},{"s":"MDPO-Robust-Augmented-Lag","x":270000,"y":72},{"s":"MDPO-Robust-Augmented-Lag","x":275000,"y":71},{"s":"MDPO-Robust-Augmented-Lag","x":280000,"y":72},
{"s":"MDPO-Robust-Augmented-Lag","x":285000,"y":73},{"s":"MDPO-Robust-Augmented-Lag","x":290000,"y":72},{"s":"MDPO-Robust-Augmented-Lag","x":295000,"y":71},{"s":"MDPO-Robust-Augmented-Lag","x":300000,"y":72},{"s":"MDPO-Robust-Augmented-Lag","x":305000,"y":71},{"s":"MDPO-Robust-Augmented-Lag","x":310000,"y":70},{"s":"MDPO-Robust-Augmented-Lag","x":315000,"y":71},{"s":"MDPO-Robust-Augmented-Lag","x":320000,"y":72},{"s":"MDPO-Robust-Augmented-Lag","x":325000,"y":71},{"s":"MDPO-Robust-Augmented-Lag","x":330000,"y":70},
{"s":"MDPO-Robust-Augmented-Lag","x":335000,"y":70},{"s":"MDPO-Robust-Augmented-Lag","x":340000,"y":71},{"s":"MDPO-Robust-Augmented-Lag","x":345000,"y":70},{"s":"MDPO-Robust-Augmented-Lag","x":350000,"y":69},{"s":"MDPO-Robust-Augmented-Lag","x":355000,"y":70},{"s":"MDPO-Robust-Augmented-Lag","x":360000,"y":71},{"s":"MDPO-Robust-Augmented-Lag","x":365000,"y":70},{"s":"MDPO-Robust-Augmented-Lag","x":370000,"y":69},{"s":"MDPO-Robust-Augmented-Lag","x":375000,"y":68},{"s":"MDPO-Robust-Augmented-Lag","x":380000,"y":69},
{"s":"MDPO-Robust-Augmented-Lag","x":385000,"y":68},{"s":"MDPO-Robust-Augmented-Lag","x":390000,"y":67},{"s":"MDPO-Robust-Augmented-Lag","x":395000,"y":66},{"s":"MDPO-Robust-Augmented-Lag","x":400000,"y":65}
]},
"transform": [{"calculate": "datum.s", "as": "series"}],
"encoding": {
 "x": {"field": "x", "type": "quantitative", "scale": {"domain": [-20000, 420000], "nice": false, "zero": false}, "axis": {"values": [0, 50000, 100000, 150000, 200000, 250000, 300000, 350000, 400000], "format": "d", "title": "Training time steps", "labelFlush": false, "labelPadding": 2.5}},
 "y": {"field": "y", "type": "quantitative", "scale": {"domain": [-638, 459], "nice": false, "zero": false}, "axis": {"values": [-600, -400, -200, 0, 200, 400], "title": "Discounted Reward", "labelFlush": false, "titlePadding": 3}}
},
"layer": [
 {"mark": {"type": "line", "strokeWidth": 1, "clip": true},
  "encoding": {"color": {"field": "s", "type": "nominal",
   "scale": {"domain": ["RMCPMD","PPO-Robust","MDPO-Robust","RMCPMD-Lag","PPO-Robust-Lag","MDPO-Robust-Lag","MDPO-Robust-Augmented-Lag"], "range": ["#1f77b4","#ff7f0e","#2ca02c","#d62728","#9467bd","#8c564b","#e377c2"]},
   "legend": {"title": null, "orient": "none", "legendX": 117, "legendY": 111, "strokeColor": "#d0d0d0", "cornerRadius": 2, "symbolType": "M-2.64,0H2.83", "symbolSize": 30, "symbolOffset": 4.5, "symbolStrokeWidth": 1, "labelOffset": 14.5, "rowPadding": 2.5, "padding": 3, "labelFontSize": 7, "labelColor": "black"}}}},
 {"mark": {"type": "point", "filled": true, "size": 20, "opacity": 1, "strokeWidth": 0.8, "clip": true},
  "encoding": {
   "fill": {"field": "series", "type": "nominal",
    "scale": {"domain": ["RMCPMD","PPO-Robust","MDPO-Robust","RMCPMD-Lag","PPO-Robust-Lag","MDPO-Robust-Lag","MDPO-Robust-Augmented-Lag"], "range": ["#1f77b4","#ff7f0e","#2ca02c","#d62728","#9467bd","#8c564b","#e377c2"]},
    "legend": {"title": null}},
   "shape": {"field": "series", "type": "nominal", "scale": {"domain": ["RMCPMD","PPO-Robust","MDPO-Robust","RMCPMD-Lag","PPO-Robust-Lag","MDPO-Robust-Lag","MDPO-Robust-Augmented-Lag"], "range": ["circle","cross","M0,-1L0.22,-0.31L0.95,-0.31L0.36,0.12L0.59,0.81L0,0.38L-0.59,0.81L-0.36,0.12L-0.95,-0.31L-0.22,-0.31Z","triangle-up","M-1,0H1M0,-1V1","triangle-down","triangle-right"]},
    "legend": {"title": null}},
   "stroke": {"field": "series", "type": "nominal", "scale": {"domain": ["RMCPMD","PPO-Robust","MDPO-Robust","RMCPMD-Lag","PPO-Robust-Lag","MDPO-Robust-Lag","MDPO-Robust-Augmented-Lag"], "range": ["#1f77b4","#ff7f0e","#2ca02c","#d62728","#9467bd","#8c564b","#e377c2"]},
    "legend": {"title": null}}
  }}
]
}
